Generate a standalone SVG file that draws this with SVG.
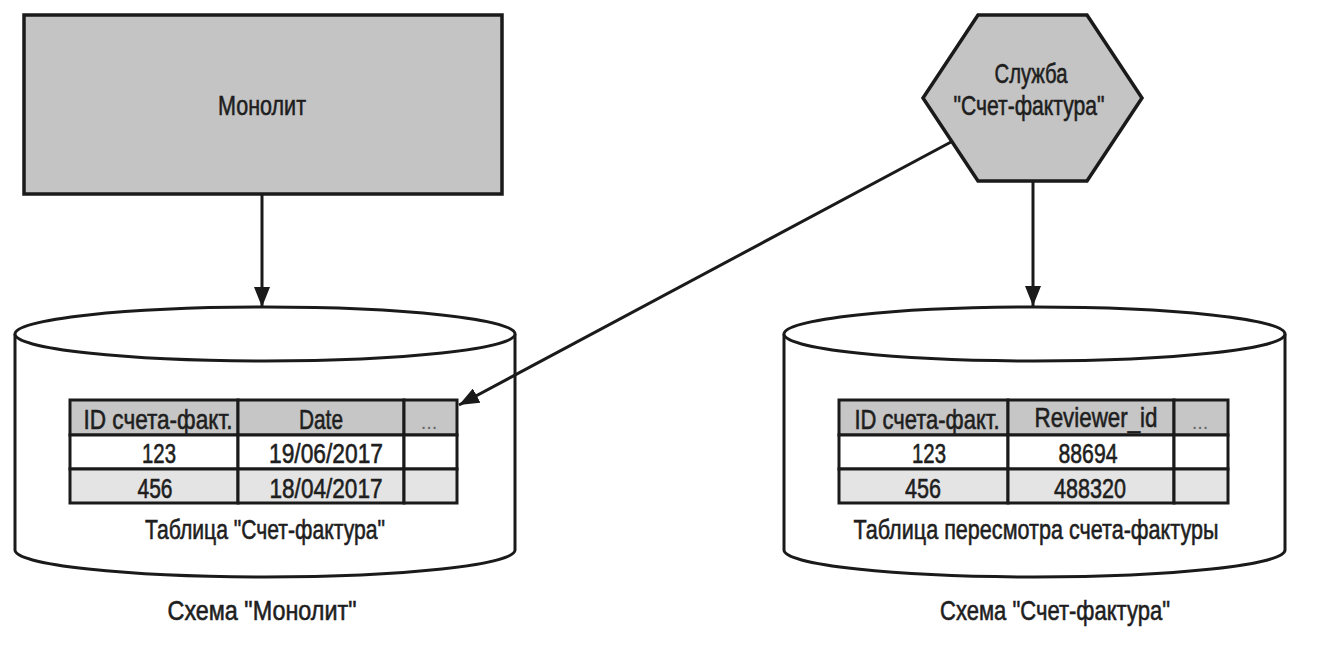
<svg xmlns="http://www.w3.org/2000/svg" width="1332" height="646" viewBox="0 0 1332 646">
<defs>
<style>
.t{font-family:"Liberation Sans Narrow","Liberation Sans",Arial,sans-serif;font-size:28px;fill:#1e1e1e;stroke:#1e1e1e;stroke-width:0.6;text-anchor:middle}
.ln{stroke:#1a1a1a;stroke-width:3;fill:none}
.box{stroke:#1a1a1a;stroke-width:3.5;fill:#c4c4c4}
.cyl{stroke:#1a1a1a;stroke-width:3;fill:#fff}
.hd{fill:#c6c6c6;stroke:#1a1a1a;stroke-width:3}
.r1{fill:#fff;stroke:#1a1a1a;stroke-width:3}
.r2{fill:#e4e4e4;stroke:#1a1a1a;stroke-width:3}
.dots{font-family:"Liberation Sans Narrow","Liberation Sans",Arial,sans-serif;font-size:20px;fill:#666;text-anchor:middle}
</style>
<marker id="arr" viewBox="0 0 20 16" refX="20" refY="8" markerWidth="20" markerHeight="16" markerUnits="userSpaceOnUse" orient="auto">
<path d="M0,0 L20,8 L0,16 z" fill="#1a1a1a"/>
</marker>
</defs>
<rect width="1332" height="646" fill="#fff"/>

<g id="monolith">
<rect class="box" x="24" y="15" width="478" height="179"/>
<text class="t" x="262" y="115" textLength="88" lengthAdjust="spacingAndGlyphs">Монолит</text>
</g>

<g id="invoice-service">
<polygon class="box" points="978,15 1087,15 1142,98 1087,181 978,181 923,98"/>
<text class="t" x="1031" y="83" font-size="26" textLength="73" lengthAdjust="spacingAndGlyphs">Служба</text>
<text class="t" x="1029" y="115" font-size="26" textLength="151" lengthAdjust="spacingAndGlyphs">"Счет-фактура"</text>
</g>

<g id="monolith-db">
<path class="cyl" d="M15,334 L15,550 A250,27 0 0 0 515,550 L515,334"/>
<ellipse class="cyl" cx="265" cy="334" rx="250" ry="27"/>
<rect class="hd" x="70" y="400" width="168" height="35"/>
<rect class="hd" x="238" y="400" width="166" height="35"/>
<rect class="hd" x="404" y="400" width="53" height="35"/>
<rect class="r1" x="70" y="435" width="168" height="34"/>
<rect class="r1" x="238" y="435" width="166" height="34"/>
<rect class="r1" x="404" y="435" width="53" height="34"/>
<rect class="r2" x="70" y="469" width="168" height="34"/>
<rect class="r2" x="238" y="469" width="166" height="34"/>
<rect class="r2" x="404" y="469" width="53" height="34"/>
<text class="t" x="158" y="429" textLength="149" lengthAdjust="spacingAndGlyphs">ID счета-факт.</text>
<text class="t" x="321" y="429" textLength="44" lengthAdjust="spacingAndGlyphs">Date</text>
<text class="dots" x="429" y="429">...</text>
<text class="t" x="159" y="463" textLength="34" lengthAdjust="spacingAndGlyphs">123</text>
<text class="t" x="326" y="463" textLength="114" lengthAdjust="spacingAndGlyphs">19/06/2017</text>
<text class="t" x="155" y="498" textLength="35" lengthAdjust="spacingAndGlyphs">456</text>
<text class="t" x="326" y="498" textLength="113" lengthAdjust="spacingAndGlyphs">18/04/2017</text>
<text class="t" x="265" y="539" textLength="240" lengthAdjust="spacingAndGlyphs">Таблица "Счет-фактура"</text>
<text class="t" x="262" y="620" textLength="189" lengthAdjust="spacingAndGlyphs">Схема "Монолит"</text>
</g>

<g id="invoice-db">
<path class="cyl" d="M784,334 L784,550 A250.5,27 0 0 0 1285,550 L1285,334"/>
<ellipse class="cyl" cx="1034.5" cy="334" rx="250.5" ry="27"/>
<rect class="hd" x="839" y="400" width="169" height="35"/>
<rect class="hd" x="1008" y="400" width="166" height="35"/>
<rect class="hd" x="1174" y="400" width="54" height="35"/>
<rect class="r1" x="839" y="435" width="169" height="34"/>
<rect class="r1" x="1008" y="435" width="166" height="34"/>
<rect class="r1" x="1174" y="435" width="54" height="34"/>
<rect class="r2" x="839" y="469" width="169" height="34"/>
<rect class="r2" x="1008" y="469" width="166" height="34"/>
<rect class="r2" x="1174" y="469" width="54" height="34"/>
<text class="t" x="927" y="429" textLength="145" lengthAdjust="spacingAndGlyphs">ID счета-факт.</text>
<text class="t" x="1096" y="427" textLength="123" lengthAdjust="spacingAndGlyphs">Reviewer_id</text>
<text class="dots" x="1200" y="429">...</text>
<text class="t" x="929" y="463" textLength="34" lengthAdjust="spacingAndGlyphs">123</text>
<text class="t" x="1088" y="463" textLength="59" lengthAdjust="spacingAndGlyphs">88694</text>
<text class="t" x="923" y="498" textLength="36" lengthAdjust="spacingAndGlyphs">456</text>
<text class="t" x="1090" y="498" textLength="72" lengthAdjust="spacingAndGlyphs">488320</text>
<text class="t" x="1036" y="539" textLength="365" lengthAdjust="spacingAndGlyphs">Таблица пересмотра счета-фактуры</text>
<text class="t" x="1055" y="620" textLength="230" lengthAdjust="spacingAndGlyphs">Схема "Счет-фактура"</text>
</g>

<g id="connectors">
<line class="ln" x1="262" y1="194" x2="262" y2="307" marker-end="url(#arr)"/>
<line class="ln" x1="1033" y1="181" x2="1033" y2="306" marker-end="url(#arr)"/>
<line class="ln" x1="951" y1="142" x2="459" y2="405" marker-end="url(#arr)"/>
</g>
</svg>
